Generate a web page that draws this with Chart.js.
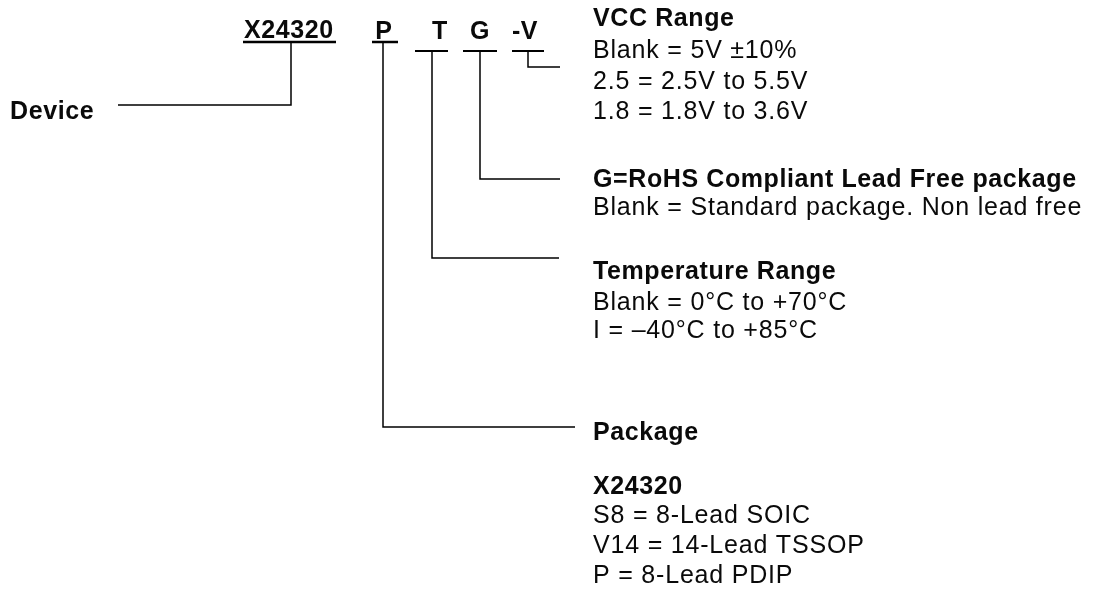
<!DOCTYPE html>
<html>
<head>
<meta charset="utf-8">
<script src="https://cdn.jsdelivr.net/npm/chart.js@4/dist/chart.umd.min.js"></script>
<style>
  html, body { margin: 0; padding: 0; background: #fff; }
  #wrap { width: 1095px; height: 600px; }
</style>
</head>
<body>
<div id="wrap"><canvas id="diagram" width="1095" height="600"></canvas></div>
<script>
// ordering information: part code and what each field means
const partCode = ['X24320', 'P', 'T', 'G', '-V'];
const deviceLabel = 'Device';
const vccTitle = 'VCC Range';
const vccOptions = ['Blank = 5V \u00B110%', '2.5 = 2.5V to 5.5V', '1.8 = 1.8V to 3.6V'];
const leadTitle = 'G=RoHS Compliant Lead Free package';
const leadOptions = ['Blank = Standard package. Non lead free'];
const tempTitle = 'Temperature Range';
const tempOptions = ['Blank = 0\u00B0C to +70\u00B0C', 'I = \u201340\u00B0C to +85\u00B0C'];
const packageTitle = 'Package';
const packageDevice = 'X24320';
const packageOptions = ['S8 = 8-Lead SOIC', 'V14 = 14-Lead TSSOP', 'P = 8-Lead PDIP'];

// leader paths, in diagram units (x 0..1095, y 0..600 from the top)
const deviceLeader = [[118, 105], [291, 105], [291, 43]];
const packageLeader = [[575, 427], [383, 427], [383, 43]];
const tempLeader = [[559, 258], [432, 258], [432, 51]];
const leadLeader = [[560, 179], [480, 179], [480, 51]];
const vccLeader = [[560, 67], [528, 67], [528, 51]];
const underlines = [[[243, 42], [336, 42]], [[372, 42], [398, 42]]];
const bars = [[[415, 51], [448, 51]], [[463, 51], [497, 51]], [[512, 51], [544, 51]]];

function path(pts, width) {
  return {
    data: pts.map(p => ({ x: p[0], y: p[1] })),
    showLine: true,
    borderColor: '#000',
    borderWidth: width,
    pointRadius: 0,
    fill: false,
    tension: 0
  };
}

const datasets = [
  path(deviceLeader, 1.5),
  path(packageLeader, 1.5),
  path(tempLeader, 1.5),
  path(leadLeader, 1.5),
  path(vccLeader, 1.5)
]
  .concat(underlines.map(u => path(u, 2.5)))
  .concat(bars.map(b => path(b, 2)));

const FONT = "'Liberation Sans', Arial, Helvetica, sans-serif";

const textPlugin = {
  id: 'orderText',
  afterDatasetsDraw(chart) {
    const ctx = chart.ctx;
    const sx = chart.scales.x, sy = chart.scales.y;
    const put = (str, x, y, bold, align) => {
      ctx.font = (bold ? 'bold ' : '') + '25px ' + FONT;
      if ('letterSpacing' in ctx) ctx.letterSpacing = bold ? '0.6px' : '0.8px';
      ctx.textAlign = align || 'left';
      ctx.fillText(str, sx.getPixelForValue(x), sy.getPixelForValue(y));
    };
    ctx.save();
    ctx.fillStyle = '#0a0a0a';
    ctx.textBaseline = 'alphabetic';

    // part code across the top
    put(partCode[0], 244, 38, true);
    put(partCode[1], 384, 39, true, 'center');
    put(partCode[2], 440, 39, true, 'center');
    put(partCode[3], 480, 39, true, 'center');
    put(partCode[4], 525, 39, true, 'center');

    put(deviceLabel, 10, 119, true);

    const block = (title, lines, y0, gap, step) => {
      put(title, 593, y0, true);
      lines.forEach((l, i) => put(l, 593, y0 + gap + i * step, false));
    };
    block(vccTitle, vccOptions, 26, 32, 30.5);
    block(leadTitle, leadOptions, 187, 28, 31);
    block(tempTitle, tempOptions, 279, 31, 28);

    put(packageTitle, 593, 440, true);
    put(packageDevice, 593, 494, true);
    packageOptions.forEach((l, i) => put(l, 593, 523 + i * 30, false));
    ctx.restore();
  }
};

new Chart(document.getElementById('diagram').getContext('2d'), {
  type: 'scatter',
  data: { datasets: datasets },
  options: {
    responsive: false,
    animation: false,
    layout: { padding: 0 },
    plugins: { legend: { display: false }, tooltip: { enabled: false } },
    scales: {
      x: { type: 'linear', min: 0, max: 1095, display: false },
      y: { type: 'linear', min: 0, max: 600, reverse: true, display: false }
    }
  },
  plugins: [textPlugin]
});
</script>
</body>
</html>
